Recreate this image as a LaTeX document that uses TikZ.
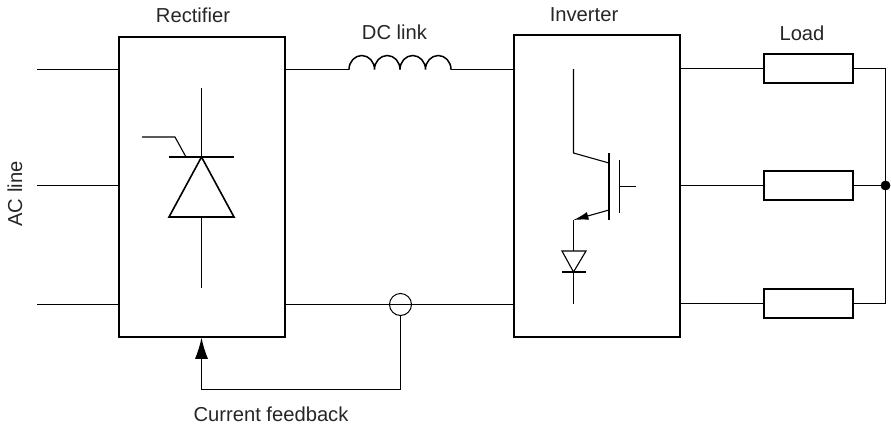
\documentclass[tikz,border=0pt]{standalone}
\usepackage{fontspec}
\setmainfont{Liberation Sans}
\usetikzlibrary{arrows.meta, positioning}

\begin{document}
\begin{tikzpicture}[
    x=0.5pt, y=-0.5pt,
    block/.style={draw, rectangle, line width=0.75pt, minimum width=83pt, minimum height=150pt, inner sep=0pt},
    loadbox/.style={draw, rectangle, line width=0.75pt, minimum width=44.5pt, minimum height=14.5pt, inner sep=0pt},
    wire/.style={line width=0.55pt},
    device/.style={line width=0.8pt},
    label/.style={font=\fontsize{10.1}{12}\selectfont, inner sep=0pt, text=black!85},
    sense/.style={draw, circle, line width=0.5pt, minimum size=11pt, inner sep=0pt},
    junction/.style={draw, circle, fill=black, minimum size=4.5pt, inner sep=0pt}
]
\useasboundingbox (0,0) rectangle (891,430);

\node[block] (rect) at (202,187) {};
\node[block, minimum height=151pt] (inv) at (597,186) {};
\node[loadbox] (loada) at (808.5,68.5) {};
\node[loadbox] (loadb) at (808.5,185.5) {};
\node[loadbox] (loadc) at (808.5,303.5) {};
\node[sense] (sensor) at (400.5,304.5) {};
\node[junction] (star) at (885.5,185.5) {};

\node[label] (lblrect) at (193,15) {Rectifier};
\node[label] (lbldc) at (394.5,32) {DC link};
\node[label] (lblinv) at (584,15) {Inverter};
\node[label] (lblload) at (802,33) {Load};
\node[label, rotate=90] (lblac) at (15,194) {AC line};
\node[label] (lblfb) at (271,414) {Current feedback};

\coordinate (aca) at (37,69.5);
\coordinate (acb) at (37,185.5);
\coordinate (acc) at (37,304.5);
\coordinate (inda) at (349,69.5);
\coordinate (indb) at (451,69.5);
\coordinate (fbcorner) at (400.5,389.5);
\coordinate (fbin) at (201.5,389.5);

% lines
\draw[wire] (aca) -- (aca -| rect.west);
\draw[wire] (acb) -- (acb -| rect.west);
\draw[wire] (acc) -- (acc -| rect.west);
\draw[wire] (inda -| rect.east) -- (inda);
\draw[line width=0.75pt] (inda) arc[start angle=180, end angle=0, x radius=6.375pt, y radius=7pt]
  arc[start angle=180, end angle=0, x radius=6.375pt, y radius=7pt]
  arc[start angle=180, end angle=0, x radius=6.375pt, y radius=7pt]
  arc[start angle=180, end angle=0, x radius=6.375pt, y radius=7pt];
\draw[wire] (indb) -- (indb -| inv.west);
\draw[wire] (acc -| rect.east) -- (acc -| inv.west);
\draw[wire] (inv.east |- loada) -- (loada);
\draw[wire] (inv.east |- loadb) -- (loadb);
\draw[wire] (inv.east |- loadc) -- (loadc);
\draw[wire] (loada) -- (loada -| star) -- (star);
\draw[wire] (loadb) -- (star);
\draw[wire] (loadc) -- (loadc -| star) -- (star);
\draw[wire, -{Latex[length=10.5pt, width=6.5pt]}] (sensor) -- (fbcorner) -- (fbin) -- (rect.south -| fbin);

% thyristor
\draw[wire] (201.5,88) -- (201.5,157);
\draw[device] (169,157) -- (234,157);
\draw[device] (201.5,157) -- (234,217) -- (169,217) -- cycle;
\draw[wire] (201.5,217) -- (201.5,288);
\draw[wire] (142,137) -- (175,137) -- (186,157);

% igbt
\draw[wire] (573.5,69) -- (573.5,153) -- (609,163);
\draw[line width=1.25pt] (609,153) -- (609,220);
\draw[wire] (619.5,160) -- (619.5,213);
\draw[wire] (619.5,186.5) -- (636,186.5);
\draw[wire, -{Latex[length=7.5pt, width=4pt]}] (609,210) -- (573.5,220);
\draw[wire] (573.5,220) -- (573.5,251);
\draw[wire] (562,251) -- (586,251) -- (573.5,272) -- cycle;
\draw[wire] (562,272) -- (586,272);
\draw[wire] (573.5,272) -- (573.5,304);
\end{tikzpicture}
\end{document}
